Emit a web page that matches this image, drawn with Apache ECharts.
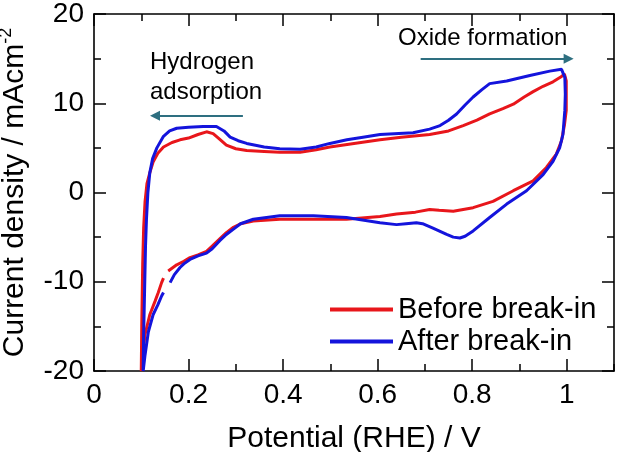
<!DOCTYPE html>
<html><head><meta charset="utf-8">
<script src="https://cdn.jsdelivr.net/npm/echarts@6/dist/echarts.min.js"></script>
<style>html,body{margin:0;padding:0;background:#fff}#c{width:620px;height:452px}</style>
</head><body><div id="c"></div>
<script>
// ---- data ----
const potBefore = [0.100,0.101,0.103,0.105,0.108,0.112,0.118,0.125,0.135,0.147,0.165,0.182,0.200,0.220,0.238,0.252,0.265,0.280,0.300,0.323,0.360,0.393,0.436,0.470,0.499,0.550,0.605,0.650,0.710,0.750,0.781,0.810,0.837,0.865,0.887,0.910,0.929,0.950,0.971,0.989,0.995,
  0.999,0.999,0.995,0.989,0.978,0.957,0.929,0.887,0.844,0.802,0.760,0.730,0.710,0.680,0.640,0.605,0.534,0.464,0.393,0.337,0.310,0.295,0.280,0.266,0.250,0.238,0.220,0.203,0.190,0.175,0.157,0.152,0.147,0.143,0.136,0.129,0.118,0.108,0.103,0.100];
const curBefore = [-20,-15,-8,-4,-1,1,2.2,3.4,4.4,5.1,5.6,5.9,6.1,6.5,6.8,6.6,6.0,5.3,4.9,4.7,4.6,4.5,4.5,4.8,5.1,5.5,5.9,6.2,6.5,6.9,7.5,8.1,8.8,9.4,9.9,10.7,11.3,11.9,12.4,13.0,13.3,
  12.5,9.2,7.5,5.8,4.3,2.8,1.3,0.2,-1.0,-1.7,-2.1,-2.0,-1.9,-2.2,-2.4,-2.7,-3.0,-3.0,-3.0,-3.2,-3.5,-3.9,-4.5,-5.2,-6.0,-6.6,-7.0,-7.3,-7.7,-8.1,-8.8,null,-9.6,-10.1,-11.2,-12.2,-13.7,-15.9,-18.1,-20];
const potAfter = [0.104,0.105,0.107,0.109,0.111,0.114,0.118,0.124,0.133,0.147,0.160,0.175,0.200,0.231,0.259,0.275,0.288,0.305,0.323,0.360,0.393,0.436,0.470,0.499,0.535,0.569,0.605,0.675,0.710,0.732,0.750,0.767,0.785,0.802,0.820,0.837,0.873,0.922,0.964,0.989,
  0.996,0.997,0.996,0.992,0.985,0.971,0.950,0.915,0.873,0.837,0.802,0.785,0.774,0.760,0.746,0.717,0.695,0.682,0.660,0.640,0.605,0.534,0.464,0.393,0.337,0.310,0.295,0.280,0.266,0.250,0.238,0.220,0.203,0.190,0.182,0.170,0.161,0.153,0.147,0.143,0.135,0.125,0.115,0.108,0.104];
const curAfter = [-20,-16,-11,-6,-3,0,2.2,3.8,5.0,6.3,6.9,7.2,7.3,7.4,7.4,6.9,6.2,5.8,5.5,5.1,4.9,4.85,5.1,5.5,5.9,6.2,6.5,6.7,7.1,7.5,8.1,8.8,9.8,10.7,11.5,12.2,12.5,13.1,13.6,13.8,
  12.9,11,9.2,6.5,5.0,3.5,2.0,0.2,-1.3,-2.8,-4.3,-4.9,-5.1,-5.0,-4.7,-4.0,-3.5,-3.4,-3.5,-3.6,-3.4,-2.8,-2.6,-2.6,-3.0,-3.5,-4.1,-4.7,-5.4,-6.3,-6.8,-7.1,-7.5,-8.0,-8.4,-9.2,-10.1,null,-11.2,-11.6,-12.6,-13.7,-15.6,-18.2,-20];
const seriesNames = ['Before break-in', 'After break-in'];
const xTitle = 'Potential (RHE) / V';
const yTitle = 'Current density / mAcm';
const ySup = '-2';
const hydArrow = [[0.315, 8.6], [0.129, 8.6]];
const oxArrow = [[0.691, 15.0], [1.004, 15.0]];

// ---- chart ----
const FF = "'Liberation Sans', Arial, Helvetica, sans-serif";
const pair = (xs, ys) => xs.map((x, i) => [x, ys[i] === null ? '-' : ys[i]]);
const tickStyle = {color: '#000', width: 1.5};
const frameLine = {show: true, onZero: false, lineStyle: {color: '#000', width: 1.6}};

const chart = echarts.init(document.getElementById('c'), null, {renderer: 'canvas'});
chart.setOption({
  animation: false,
  backgroundColor: '#fff',
  grid: {left: 94, right: 6, top: 14, bottom: 81, containLabel: false, outerBoundsMode: 'none'},
  legend: {
    orient: 'vertical', left: 325, top: 290, itemWidth: 63, itemHeight: 4, icon: 'rect',
    itemGap: 3, selectedMode: false,
    textStyle: {fontSize: 29, lineHeight: 28, color: '#000', fontFamily: FF},
    data: seriesNames
  },
  xAxis: [
    {type: 'value', position: 'bottom', min: 0, max: 1.1, interval: 0.2,
     axisLine: frameLine, axisTick: {inside: true, length: 12, lineStyle: tickStyle},
     axisLabel: {margin: 10, fontSize: 28, color: '#000', fontFamily: FF, showMaxLabel: false},
     splitLine: {show: false},
     name: xTitle, nameLocation: 'middle', nameGap: 53,
     nameTextStyle: {fontSize: 30, color: '#000', fontFamily: FF}},
    {type: 'value', position: 'bottom', min: 0, max: 1.1, interval: 0.1,
     axisLine: {show: false, onZero: false}, axisTick: {inside: true, length: 7, lineStyle: tickStyle},
     axisLabel: {show: false}, splitLine: {show: false}},
    {type: 'value', position: 'top', min: 0, max: 1.1, interval: 0.2,
     axisLine: frameLine, axisTick: {inside: true, length: 12, lineStyle: tickStyle},
     axisLabel: {show: false}, splitLine: {show: false}},
    {type: 'value', position: 'top', min: 0, max: 1.1, interval: 0.1,
     axisLine: {show: false, onZero: false}, axisTick: {inside: true, length: 7, lineStyle: tickStyle},
     axisLabel: {show: false}, splitLine: {show: false}}
  ],
  yAxis: [
    {type: 'value', position: 'left', min: -20, max: 20, interval: 10,
     axisLine: frameLine, axisTick: {inside: true, length: 12, lineStyle: tickStyle},
     minorTick: {show: true, splitNumber: 2, length: 7, lineStyle: tickStyle},
     axisLabel: {margin: 10, fontSize: 28, color: '#000', fontFamily: FF},
     splitLine: {show: false}, minorSplitLine: {show: false},
     name: yTitle + '{sup|' + ySup + '}', nameLocation: 'middle', nameGap: 52, nameRotate: 90,
     nameTextStyle: {fontSize: 30, lineHeight: 36, color: '#000', fontFamily: FF,
       rich: {sup: {fontSize: 18, lineHeight: 18, verticalAlign: 'top', color: '#000', fontFamily: FF}}}},
    {type: 'value', position: 'right', min: -20, max: 20, interval: 10,
     axisLine: frameLine, axisTick: {inside: true, length: 12, lineStyle: tickStyle},
     minorTick: {show: true, splitNumber: 2, length: 7, lineStyle: tickStyle},
     axisLabel: {show: false}, splitLine: {show: false}, minorSplitLine: {show: false}}
  ],
  series: [
    {name: seriesNames[0], type: 'line', xAxisIndex: 0, yAxisIndex: 0,
     data: pair(potBefore, curBefore), showSymbol: false, symbol: 'none', connectNulls: false,
     lineStyle: {color: '#e8161b', width: 3}, itemStyle: {color: '#e8161b'}, z: 2},
    {name: seriesNames[1], type: 'line', xAxisIndex: 0, yAxisIndex: 0,
     data: pair(potAfter, curAfter), showSymbol: false, symbol: 'none', connectNulls: false,
     lineStyle: {color: '#1414dc', width: 3}, itemStyle: {color: '#1414dc'}, z: 3,
     markLine: {
       silent: true, symbol: ['none', 'triangle'], symbolSize: 10, animation: false,
       label: {show: false},
       lineStyle: {color: '#2e6f80', width: 2, type: 'solid'},
       emphasis: {disabled: true},
       data: [
         [{coord: hydArrow[0]}, {coord: hydArrow[1]}],
         [{coord: oxArrow[0]}, {coord: oxArrow[1]}]
       ]
     }}
  ],
  graphic: [
    {type: 'text', left: 398, top: 26, style: {text: 'Oxide formation', fontSize: 24, fontFamily: FF, fill: '#000'}},
    {type: 'text', left: 150, top: 47, style: {text: 'Hydrogen\nadsorption', fontSize: 24, lineHeight: 30, fontFamily: FF, fill: '#000'}}
  ]
});
</script>
</body></html>
